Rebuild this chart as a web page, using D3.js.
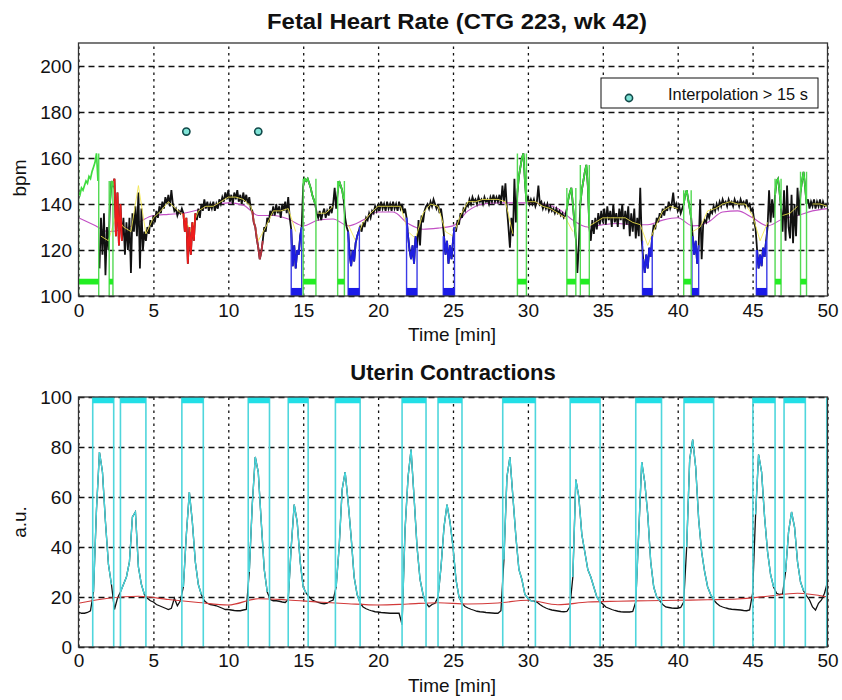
<!DOCTYPE html>
<html>
<head>
<meta charset="utf-8">
<script src="https://cdn.jsdelivr.net/npm/d3@7"></script>
<style>
  body { margin: 0; background: #fff; }
  text { font-family: "Liberation Sans", Arial, sans-serif; }
</style>
</head>
<body>
<svg id="chart" width="842" height="700"></svg>
<script>
// ---- data ----
// fetal heart rate, one sample every 0.1 min (bpm)
const fhrStep = 0.1;
const fhr = [
  145,144,147,146,148,150,149,152,151,154,
  156,158,162,150,112,134,118,136,109,130,
  120,140,150,148,151,126,145,122,140,124,
  134,118,132,120,134,110,136,128,139,126,
  145,112,138,120,128,124,130,127,133,130,
  135,132,137,134,139,136,141,138,143,140,
  144,139,146,140,137,138,135,137,136,138,
  136,128,134,114,130,118,132,124,136,133,
  138,134,140,137,142,138,141,137,140,138,
  141,137,140,138,142,140,143,141,145,142,
  146,141,144,140,145,142,146,141,144,140,
  145,141,144,140,143,138,137,132,130,125,
  121,116,119,124,130,128,134,132,137,135,
  139,135,140,136,139,134,140,137,141,136,
  143,134,129,113,122,112,120,118,126,130,
  148,151,150,151,149,147,144,142,140,136,
  134,137,133,136,138,134,137,135,139,136,
  140,147,138,145,150,148,146,142,134,130,
  128,118,113,120,115,123,126,128,130,128,
  132,130,134,133,136,134,137,136,139,137,
  140,137,141,138,140,137,141,138,140,137,
  141,138,140,137,141,138,140,136,138,134,
  126,120,116,122,114,126,121,133,122,135,
  132,137,139,140,138,141,139,142,140,138,
  140,136,138,133,126,118,124,114,122,116,
  124,130,128,133,131,136,134,138,137,140,
  139,142,140,143,141,142,140,143,141,142,
  140,143,141,142,140,143,141,144,141,143,
  141,144,140,148,141,149,138,130,121,134,
  126,151,132,145,152,156,160,162,150,141,
  143,140,142,140,142,139,141,148,140,141,
  138,140,138,140,137,139,137,138,136,138,
  136,137,135,136,134,135,138,142,145,147,
  140,132,125,110,122,140,146,150,154,157,
  148,130,124,133,127,134,129,136,131,137,
  132,138,131,139,133,137,130,140,132,136,
  130,138,133,140,129,137,131,139,126,136,
  128,138,125,134,126,147,124,116,110,118,
  112,121,117,126,131,129,134,132,136,134,
  138,135,139,137,141,138,140,145,138,140,
  137,139,136,138,140,144,146,142,138,134,
  126,118,124,114,122,142,116,131,133,132,
  136,134,137,136,139,137,140,138,141,139,
  142,140,141,139,142,140,141,139,142,140,
  141,139,142,140,141,139,142,139,140,137,
  138,133,129,120,112,118,113,121,117,124,
  130,146,132,142,134,144,150,151,145,138,
  128,146,124,148,130,125,144,123,140,126,
  147,135,145,150,154,148,140,142,138,141,
  139,142,138,141,139,142,138,141,139,140,
  139
];

// filtered FHR (yellow), every 0.5 min
const trendStep = 0.5;
const fhrTrend = [
  null,null,null,126,124,135,130,128,148,127,
  134,137,141,138,135,128,137,139,139,141,
  143,143,142,139,124,130,137,137,138,128,
  null,null,136,136,139,null,131,124,132,136,
  139,139,139,139,128,125,136,140,139,128,
  126,135,141,141,142,142,142,141,127,null,
  141,141,139,138,136,134,128,null,130,132,
  134,134,134,134,132,131,122,130,137,139,
  138,null,128,130,137,138,140,141,140,140,
  135,124,132,null,135,136,139,null,140,140,
  139
];

// FHR baseline (magenta), every 1 min
const baseStep = 1;
const fhrBaseline = [
  134,131,128,129,132,135,135.5,136,137.5,139.5,
  140.5,139.5,135,135,133.5,130.5,133,133.5,130.5,133,
  136.5,136.5,131.5,129,129.5,130.5,137,140,140.5,140.5,
  140.5,140,138,133,130,131,131.5,131,131,133,
  134,130.5,132,136.5,137,134,130.5,133.5,135,137,
  138
];

// red stretches (min)
const redStart = [2.3, 7.0, 11.6];
const redEnd   = [2.95, 7.8, 12.3];
const redColor = ["#ee1c1c", "#ee1c1c", "#b8333f"];

// decelerations (blue), min
const decelStart = [14.2, 18.0, 21.9, 24.35, 37.65, 40.95, 45.25];
const decelEnd   = [14.9, 18.75, 22.6, 25.1, 38.3, 41.4, 45.95];

// signal loss (green), min
const lossStart = [0, 2.05, 15.0, 17.3, 29.3, 32.6, 33.5, 40.4, 46.5, 48.2];
const lossEnd   = [1.35, 2.3, 15.85, 17.75, 29.9, 33.2, 34.1, 40.9, 46.9, 48.6];

// interpolation > 15 s markers
const interpTime = [7.2, 12.0];
const interpBpm  = [171.5, 171.5];

// uterine contractions, one sample every 0.2 min (a.u.)
const ucStep = 0.2;
const uc = [
  14,13.5,13.5,13.8,14.5,
  22,55,78,70,50,
  33,25,15,19.5,22,
  25,28,34,52,54,
  32,25,21,19.5,18.5,
  18,17,16.5,16,15.5,
  15,15.5,19.5,16.5,18.5,
  24,45,62,50,34,
  25,21,18.5,17.5,17,
  16.8,16.5,16,15.5,15,
  15,14.8,14.6,14.5,14.5,
  14.8,15,30,57,76,
  70,50,31,22,19,
  18.5,18.5,18.3,18,17.8,
  19,40,57,50,34,
  24,21.5,20,18.8,18.3,
  17.8,17.5,17.3,17.5,18.3,
  18.8,24,40,63,70,
  58,44,28,21,17.5,
  16,15.3,14.8,14.4,14.1,
  14,13.8,13.7,13.6,13.5,
  13.5,13.5,13.5,9,47,
  68,79,60,40,27,
  21,17.5,16.1,17,17.5,
  20,32,48,57,50,
  40,27,20,17.5,16.2,
  15.6,15.1,14.7,14.3,14.1,
  14,13.8,13.7,13.6,13.5,
  13.5,14.5,35,68,76,
  60,44,31,27,21,
  19.5,18.5,18.3,18,17,
  16.2,15.6,15.1,14.8,14.6,
  14.4,14.2,14.1,14.2,16,
  28,67,60,45,38,
  31,28,24,20,18.2,
  17.2,16,15.5,15,14.6,
  14.3,14.1,14,14,14,
  14.2,18,46,74,66,
  53,34,24,20,18.5,
  17,16,15.8,15.6,15.5,
  15.5,15.8,18,40,75,
  83,72,51,38,30,
  24,21,18.8,17.5,16.5,
  16,15.6,15.3,15.1,15,
  14.9,14.8,14.6,14.5,14.8,
  21.5,53,77,70,52,
  38,29,24,21.5,21,
  21.2,30,46,54,48,
  34,26,22.5,20.5,18.8,
  16,14.8,17.5,18.8,21.5,
  26
];

// UC baseline (red), every 2 min
const ucBaseStep = 2;
const ucBaseline = [
  17.5,19.5,20.3,19,17.8,16.8,19.3,18.8,18,17.3,
  16.8,17.2,17.7,17.2,17.6,18.7,16.9,18,18.3,18.5,
  18.7,18.9,19.2,20.3,21.5,20
];

// detected contractions (cyan), min
const contrStart = [0.95, 2.8, 6.9, 11.33, 14.0, 17.15, 21.6, 24.0, 28.32, 32.82, 37.2, 40.42, 45.02, 47.1, 49.95];
const contrEnd   = [2.35, 4.5, 8.33, 12.75, 15.33, 18.8, 23.2, 25.6, 30.5, 34.82, 38.92, 42.4, 46.5, 48.52, 50];

const timeTicks = [0, 5, 10, 15, 20, 25, 30, 35, 40, 45, 50];
const fhrTicks  = [100, 120, 140, 160, 180, 200];
const ucTicks   = [0, 20, 40, 60, 80, 100];

// ---- drawing ----
const svg = d3.select("#chart");
const FONT = "'Liberation Sans', Arial, sans-serif";

const x  = d3.scaleLinear().domain([0, 50]).range([78.5, 827.5]);
const yF = d3.scaleLinear().domain([100, 210]).range([296, 43]);
const yU = d3.scaleLinear().domain([0, 100]).range([647, 397]);

const fhrPts   = fhr.map((v, i) => ({ t: +(i * fhrStep).toFixed(2), v }));
const trendPts = fhrTrend.map((v, i) => ({ t: i * trendStep, v }));
const basePts  = fhrBaseline.map((v, i) => ({ t: i * baseStep, v }));
const ucPts    = uc.map((v, i) => ({ t: +(i * ucStep).toFixed(2), v }));
const ucBPts   = ucBaseline.map((v, i) => ({ t: i * ucBaseStep, v }));

const inWin = (pts, a, b) => pts.filter(p => p.t >= a - 1e-6 && p.t <= b + 1e-6);
const nearest = (t) => fhr[Math.round(t / fhrStep)];

function panel(y, ticks, top, bottom, xPad) {
  const g = svg.append("g");
  const w = x.range()[1] - x.range()[0];
  // grid + tick labels
  g.append("g")
    .attr("transform", `translate(0,${bottom})`)
    .call(d3.axisBottom(x).tickValues(timeTicks).tickSize(-(bottom - top)).tickPadding(xPad))
    .call(a => a.select(".domain").remove())
    .call(a => a.selectAll("line").attr("stroke", "#111").attr("stroke-width", 1.3).attr("stroke-dasharray", "2.5,4"))
    .call(a => a.selectAll("text").attr("font-size", 19).attr("font-family", FONT).attr("fill", "#111"));
  g.append("g")
    .attr("transform", `translate(${x.range()[0]},0)`)
    .call(d3.axisLeft(y).tickValues(ticks).tickSize(-w).tickPadding(6.5))
    .call(a => a.select(".domain").remove())
    .call(a => a.selectAll("line").attr("stroke", "#111").attr("stroke-width", 1.3).attr("stroke-dasharray", "6,4"))
    .call(a => a.selectAll("text").attr("font-size", 19).attr("font-family", FONT).attr("fill", "#111"));
  const clipId = "clip" + top;
  svg.append("clipPath").attr("id", clipId)
    .append("rect").attr("x", x.range()[0]).attr("y", top).attr("width", w).attr("height", bottom - top);
  const plot = svg.append("g").attr("clip-path", `url(#${clipId})`);
  return plot;
}

function frame(top, bottom) {
  svg.append("rect")
    .attr("x", x.range()[0]).attr("y", top)
    .attr("width", x.range()[1] - x.range()[0]).attr("height", bottom - top)
    .attr("fill", "none").attr("stroke", "#333").attr("stroke-width", 1.3);
}

// ===== top: fetal heart rate =====
const pF = panel(yF, fhrTicks, 43, 296, 8);
const lineF = d3.line().defined(d => d.v != null).x(d => x(d.t)).y(d => yF(d.v));

pF.append("path").datum(basePts)
  .attr("d", lineF.curve(d3.curveMonotoneX))
  .attr("fill", "none").attr("stroke", "#c24fc4").attr("stroke-width", 1.1);
lineF.curve(d3.curveLinear);

pF.append("path").datum(fhrPts.filter(p => p.t > 1.35))
  .attr("d", lineF)
  .attr("fill", "none").attr("stroke", "#111").attr("stroke-width", 1.8);

pF.append("path").datum(trendPts)
  .attr("d", lineF)
  .attr("fill", "none").attr("stroke", "#f2e64a").attr("stroke-width", 1).attr("opacity", 0.85);

redStart.forEach((s, i) => {
  pF.append("path").datum(inWin(fhrPts, s, redEnd[i]))
    .attr("d", lineF)
    .attr("fill", "none").attr("stroke", redColor[i]).attr("stroke-width", 1.8);
});

decelStart.forEach((s, i) => {
  const e = decelEnd[i];
  pF.append("path").datum(inWin(fhrPts, s, e))
    .attr("d", lineF)
    .attr("fill", "none").attr("stroke", "#1e1ee0").attr("stroke-width", 1.8);
  [s, e].forEach(t => {
    pF.append("line")
      .attr("x1", x(t)).attr("x2", x(t))
      .attr("y1", yF(100)).attr("y2", yF(nearest(t)))
      .attr("stroke", "#3a3ae6").attr("stroke-width", 1.4);
  });
  pF.append("rect")
    .attr("x", x(s)).attr("width", x(e) - x(s))
    .attr("y", yF(103.5)).attr("height", yF(100) - yF(103.5))
    .attr("fill", "#1a1ae8");
});

lossStart.forEach((s, i) => {
  const e = lossEnd[i];
  const seg = inWin(fhrPts, s, e);
  const top = d3.max(seg, p => p.v);
  pF.append("path").datum(seg)
    .attr("d", lineF)
    .attr("fill", "none").attr("stroke", "#3fdc3f").attr("stroke-width", 1.7);
  [s, e].forEach(t => {
    pF.append("line")
      .attr("x1", x(t)).attr("x2", x(t))
      .attr("y1", yF(100)).attr("y2", yF(top))
      .attr("stroke", "#52d952").attr("stroke-width", 1.4);
  });
  pF.append("rect")
    .attr("x", x(s)).attr("width", x(e) - x(s))
    .attr("y", yF(107.5)).attr("height", yF(105) - yF(107.5))
    .attr("fill", "#22ee22");
});

pF.selectAll("circle.interp").data(interpTime).join("circle")
  .attr("class", "interp")
  .attr("cx", d => x(d)).attr("cy", (d, i) => yF(interpBpm[i])).attr("r", 3.6)
  .attr("fill", "#7fe3d6").attr("stroke", "#124a4a").attr("stroke-width", 1.6);

frame(43, 296);

// legend
const lg = svg.append("g");
lg.append("rect").attr("x", 601).attr("y", 78).attr("width", 217).attr("height", 30)
  .attr("fill", "#fff").attr("stroke", "#111").attr("stroke-width", 1);
lg.append("circle").attr("cx", 629).attr("cy", 98).attr("r", 3.6)
  .attr("fill", "#7fe3d6").attr("stroke", "#124a4a").attr("stroke-width", 1.6);
lg.append("text").attr("x", 668).attr("y", 100)
  .attr("font-size", 16.5).attr("textLength", 140).attr("lengthAdjust", "spacingAndGlyphs")
  .attr("fill", "#111").text("Interpolation > 15 s");

// ===== bottom: uterine contractions =====
const pU = panel(yU, ucTicks, 397, 647, 6.5);
const lineU = d3.line().defined(d => d.v != null).x(d => x(d.t)).y(d => yU(d.v));

pU.append("path").datum(ucPts)
  .attr("d", lineU)
  .attr("fill", "none").attr("stroke", "#111").attr("stroke-width", 1.3);

pU.append("path").datum(ucBPts)
  .attr("d", lineU.curve(d3.curveMonotoneX))
  .attr("fill", "none").attr("stroke", "#d23a3a").attr("stroke-width", 1.2);
lineU.curve(d3.curveLinear);

contrStart.forEach((s, i) => {
  const e = contrEnd[i];
  pU.append("path").datum(inWin(ucPts, s, e))
    .attr("d", lineU)
    .attr("fill", "none").attr("stroke", "#46d6dc").attr("stroke-width", 1.4);
  [s, e].forEach(t => {
    pU.append("line")
      .attr("x1", x(t)).attr("x2", x(t))
      .attr("y1", yU(0)).attr("y2", yU(100))
      .attr("stroke", "#4fd6dc").attr("stroke-width", 1.6);
  });
  pU.append("rect")
    .attr("x", x(s)).attr("width", x(e) - x(s))
    .attr("y", yU(100)).attr("height", yU(97.5) - yU(100))
    .attr("fill", "#22dfe6");
});

frame(397, 647);

// ===== titles and axis labels =====
svg.append("text").attr("x", 457).attr("y", 29).attr("text-anchor", "middle")
  .attr("font-size", 22).attr("font-weight", "bold")
  .attr("textLength", 380).attr("lengthAdjust", "spacingAndGlyphs")
  .attr("fill", "#111").text("Fetal Heart Rate (CTG 223, wk 42)");
svg.append("text").attr("x", 453).attr("y", 380).attr("text-anchor", "middle")
  .attr("font-size", 22).attr("font-weight", "bold")
  .attr("fill", "#111").text("Uterin Contractions");

svg.append("text").attr("x", 452).attr("y", 341).attr("text-anchor", "middle")
  .attr("font-size", 19).attr("fill", "#111").text("Time [min]");
svg.append("text").attr("x", 452).attr("y", 692).attr("text-anchor", "middle")
  .attr("font-size", 19).attr("fill", "#111").text("Time [min]");

svg.append("text").attr("transform", "translate(26,178) rotate(-90)").attr("text-anchor", "middle")
  .attr("font-size", 19).attr("fill", "#111").text("bpm");
svg.append("text").attr("transform", "translate(26,522) rotate(-90)").attr("text-anchor", "middle")
  .attr("font-size", 19).attr("fill", "#111").text("a.u.");
</script>
</body>
</html>
